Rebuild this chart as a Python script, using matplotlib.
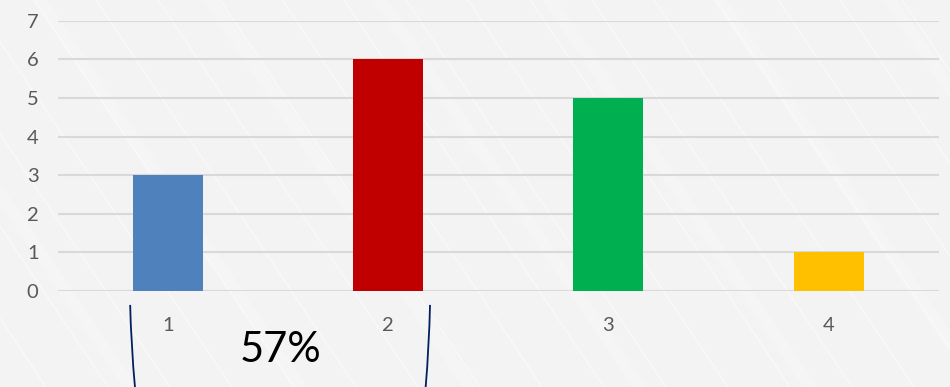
import matplotlib.pyplot as plt
from matplotlib.path import Path
from matplotlib.patches import PathPatch
import numpy as np

# chart data
categories = ["1", "2", "3", "4"]
values = [3, 6, 5, 1]
bar_colors = ["#4F81BD", "#C00000", "#00B050", "#FFC000"]
y_ticks = [0, 1, 2, 3, 4, 5, 6, 7]
share_label = "57%"

plt.rcParams['font.family'] = ['Lato', 'DejaVu Sans']

fig = plt.figure(figsize=(9.5, 3.87), dpi=100)
fig.patch.set_facecolor("#F3F3F3")

# faint diagonal streaks of the slide background
bg = fig.add_axes([0, 0, 1, 1], zorder=0)
bg.set_xlim(0, 950)
bg.set_ylim(387, 0)
bg.axis("off")
for x0 in range(-400, 1000, 62):
    bg.plot([x0, x0 + 260], [0, 387], color="white", lw=1.0, alpha=0.5)
for x0 in range(-300, 1000, 170):
    bg.plot([x0, x0 + 260], [0, 387], color="white", lw=9, alpha=0.18,
            solid_capstyle="round")

ax = fig.add_axes([0.061, 0.248, 0.927, 0.698], zorder=1)
ax.patch.set_alpha(0)
x = np.arange(len(categories))
ax.bar(x, values, width=0.318, color=bar_colors, zorder=3)

ax.set_xlim(-0.5, len(categories) - 0.5)
ax.set_ylim(0, 7)
ax.set_yticks(y_ticks)
ax.set_xticks(x)
ax.set_xticklabels(categories)
ax.yaxis.grid(True, color="#D9D9D9", lw=1.5, zorder=0)
ax.tick_params(axis="both", length=0, labelsize=14.5, labelcolor="#595959")
ax.tick_params(axis="y", pad=14)
ax.tick_params(axis="x", pad=19)
for s in ax.spines.values():
    s.set_visible(False)

# bracket grouping the first two categories
y_top, y_bot = -0.36, -2.5
for xa, xb in [(-0.172, -0.15), (1.19, 1.17)]:
    verts = [(xa, y_top), (xa + (xb - xa) * 0.2, (y_top + y_bot) / 2),
             (xb, y_bot)]
    path = Path(verts, [Path.MOVETO, Path.CURVE3, Path.CURVE3])
    ax.add_patch(PathPatch(path, fill=False, edgecolor="#002060", lw=1.3,
                           clip_on=False))

ax.text(0.51, -1.52, share_label, ha="center", va="center", fontsize=30,
        color="black")

fig.savefig("out.png", dpi=100, facecolor=fig.get_facecolor())
